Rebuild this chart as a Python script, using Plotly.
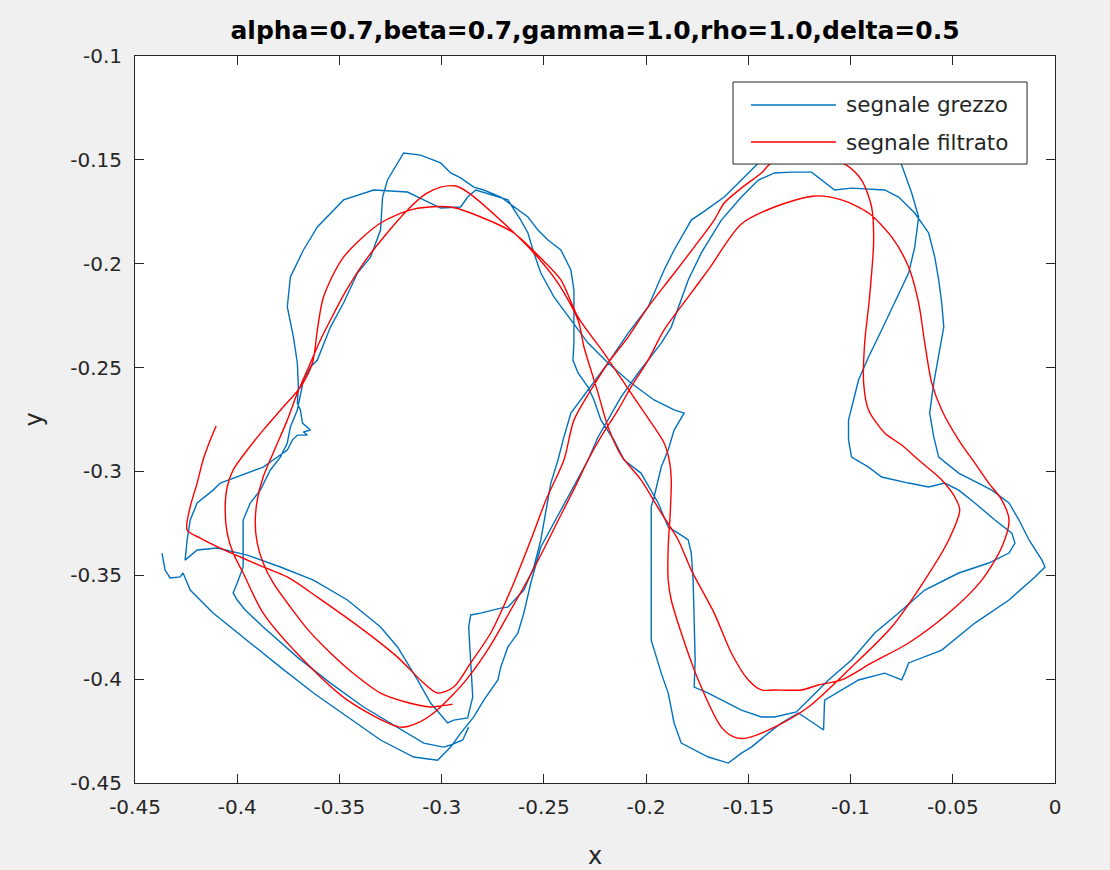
import plotly.graph_objects as go

# ---- data ----
raw_x = [-0.2868, -0.2897, -0.2956, -0.2990, -0.3088, -0.3216, -0.3382, -0.3544, -0.3706, -0.3873,
         -0.3961, -0.4000, -0.4020, -0.4000, -0.3971, -0.3971, -0.3971, -0.3936, -0.3887, -0.3838,
         -0.3789, -0.3755, -0.3740, -0.3706, -0.3691, -0.3676, -0.3642, -0.3608, -0.3544, -0.3480,
         -0.3412, -0.3348, -0.3299, -0.3289, -0.3265, -0.3216, -0.3186, -0.3103, -0.3005, -0.2956,
         -0.2907, -0.2843, -0.2794, -0.2711, -0.2647, -0.2578, -0.2529, -0.2480, -0.2417, -0.2368,
         -0.2353, -0.2353, -0.2353, -0.2358, -0.2333, -0.2284, -0.2255, -0.2221, -0.2157, -0.2108,
         -0.2025, -0.1941, -0.1892, -0.1843, -0.1794, -0.1779, -0.1770, -0.1765, -0.1760, -0.1765,
         -0.1696, -0.1534, -0.1436, -0.1372, -0.1265, -0.1206, -0.1108, -0.0995, -0.0882, -0.0765,
         -0.0637, -0.0471, -0.0324, -0.0225, -0.0196, -0.0211, -0.0294, -0.0392, -0.0471, -0.0539,
         -0.0618, -0.0716, -0.0848, -0.0912, -0.0995, -0.1010, -0.1010, -0.0961, -0.0912, -0.0848,
         -0.0784, -0.0716, -0.0686, -0.0667, -0.0701, -0.0750, -0.0799, -0.0922, -0.1093, -0.1240,
         -0.1363, -0.1451, -0.1534, -0.1618, -0.1706, -0.1779, -0.1863, -0.1912, -0.1990, -0.2088,
         -0.2186, -0.2284, -0.2368, -0.2402, -0.2431, -0.2466, -0.2490, -0.2515, -0.2549, -0.2598,
         -0.2676, -0.2711, -0.2809, -0.2858, -0.2868, -0.2858, -0.2848, -0.2873, -0.2941, -0.2971,
         -0.3054, -0.3118, -0.3216, -0.3299, -0.3461, -0.3627, -0.3789, -0.3951, -0.4098, -0.4196,
         -0.4255, -0.4245, -0.4230, -0.4196, -0.4118, -0.4083, -0.4020, -0.3951, -0.3873, -0.3824,
         -0.3755, -0.3730, -0.3706, -0.3657, -0.3676, -0.3642, -0.3681, -0.3691, -0.3706, -0.3701,
         -0.3706, -0.3725, -0.3755, -0.3740, -0.3676, -0.3608, -0.3480, -0.3333, -0.3167, -0.3088,
         -0.3005, -0.2907, -0.2873, -0.2833, -0.2760, -0.2676, -0.2613, -0.2578, -0.2549, -0.2515,
         -0.2451, -0.2368, -0.2284, -0.2186, -0.2074, -0.1961, -0.1863, -0.1814, -0.1863, -0.1892,
         -0.1926, -0.1961, -0.1975, -0.1975, -0.1975, -0.1926, -0.1892, -0.1863, -0.1828, -0.1696,
         -0.1598, -0.1534, -0.1485, -0.1402, -0.1338, -0.1255, -0.1132, -0.1127, -0.0961, -0.0833,
         -0.0750, -0.0735, -0.0716, -0.0554, -0.0392, -0.0225, -0.0098, -0.0049, -0.0064, -0.0127,
         -0.0176, -0.0225, -0.0309, -0.0471, -0.0569, -0.0593, -0.0613, -0.0593, -0.0569, -0.0544,
         -0.0554, -0.0569, -0.0588, -0.0618, -0.0686, -0.0765, -0.0833, -0.0995, -0.1078, -0.1142,
         -0.1191, -0.1289, -0.1372, -0.1451, -0.1534, -0.1632, -0.1730, -0.1794, -0.1843, -0.1877,
         -0.1926, -0.2039, -0.2123, -0.2186, -0.2235, -0.2284, -0.2382, -0.2466, -0.2515, -0.2564,
         -0.2598, -0.2627, -0.2676, -0.2711, -0.2725, -0.2794, -0.2843, -0.2907, -0.2956, -0.3020,
         -0.3137, -0.3299, -0.3461, -0.3627, -0.3789, -0.3951, -0.4118, -0.4230, -0.4265, -0.4279,
         -0.4328, -0.4353, -0.4368]
raw_y = [-0.4231, -0.4293, -0.4317, -0.4327, -0.4308, -0.4231, -0.4134, -0.4019, -0.3894, -0.3749,
         -0.3667, -0.3619, -0.3585, -0.3537, -0.3460, -0.3330, -0.3234, -0.3152, -0.3090, -0.2993,
         -0.2931, -0.2863, -0.2786, -0.2704, -0.2623, -0.2560, -0.2497, -0.2464, -0.2305, -0.2189,
         -0.2045, -0.1968, -0.1838, -0.1679, -0.1597, -0.1515, -0.1467, -0.1477, -0.1515, -0.1563,
         -0.1587, -0.1631, -0.1645, -0.1679, -0.1727, -0.1775, -0.1838, -0.1886, -0.1934, -0.2030,
         -0.2127, -0.2257, -0.2382, -0.2464, -0.2526, -0.2594, -0.2656, -0.2753, -0.2849, -0.2945,
         -0.3008, -0.3152, -0.3268, -0.3297, -0.3330, -0.3393, -0.3523, -0.3715, -0.3908, -0.4038,
         -0.4067, -0.4149, -0.4182, -0.4182, -0.4158, -0.4101, -0.4004, -0.3908, -0.3778, -0.3682,
         -0.3571, -0.3489, -0.3441, -0.3393, -0.3345, -0.3297, -0.3234, -0.3152, -0.3090, -0.3056,
         -0.3075, -0.3056, -0.3027, -0.2979, -0.2931, -0.2849, -0.2753, -0.2560, -0.2449, -0.2319,
         -0.2189, -0.2045, -0.1920, -0.1775, -0.1660, -0.1525, -0.1429, -0.1380, -0.1380, -0.1414,
         -0.1462, -0.1515, -0.1597, -0.1679, -0.1741, -0.1790, -0.1934, -0.2030, -0.2208, -0.2334,
         -0.2478, -0.2608, -0.2719, -0.2834, -0.2945, -0.3056, -0.3186, -0.3330, -0.3460, -0.3571,
         -0.3653, -0.3658, -0.3682, -0.3691, -0.3749, -0.3922, -0.4086, -0.4187, -0.4197, -0.4211,
         -0.4115, -0.4004, -0.3845, -0.3749, -0.3619, -0.3523, -0.3460, -0.3403, -0.3369, -0.3378,
         -0.3427, -0.3330, -0.3234, -0.3152, -0.3090, -0.3056, -0.3032, -0.3008, -0.2979, -0.2945,
         -0.2897, -0.2849, -0.2825, -0.2825, -0.2810, -0.2801, -0.2767, -0.2704, -0.2671, -0.2594,
         -0.2478, -0.2353, -0.2208, -0.2064, -0.1934, -0.1823, -0.1693, -0.1645, -0.1655, -0.1693,
         -0.1732, -0.1727, -0.1679, -0.1645, -0.1669, -0.1693, -0.1790, -0.1852, -0.1948, -0.2045,
         -0.2160, -0.2271, -0.2382, -0.2478, -0.2574, -0.2656, -0.2704, -0.2719, -0.2801, -0.2897,
         -0.2979, -0.3123, -0.3171, -0.3523, -0.3812, -0.3971, -0.4067, -0.4211, -0.4308, -0.4375,
         -0.4404, -0.4356, -0.4327, -0.4260, -0.4211, -0.4163, -0.4245, -0.4101, -0.4004, -0.3971,
         -0.4004, -0.3971, -0.3922, -0.3860, -0.3730, -0.3619, -0.3508, -0.3460, -0.3427, -0.3330,
         -0.3234, -0.3152, -0.3090, -0.3008, -0.2931, -0.2834, -0.2719, -0.2574, -0.2449, -0.2305,
         -0.2189, -0.2078, -0.1968, -0.1852, -0.1756, -0.1679, -0.1645, -0.1636, -0.1645, -0.1597,
         -0.1559, -0.1559, -0.1563, -0.1597, -0.1679, -0.1790, -0.1948, -0.2078, -0.2208, -0.2305,
         -0.2382, -0.2526, -0.2642, -0.2753, -0.2834, -0.2945, -0.3123, -0.3268, -0.3364, -0.3537,
         -0.3682, -0.3778, -0.3845, -0.3942, -0.4004, -0.4101, -0.4182, -0.4260, -0.4327, -0.4390,
         -0.4375, -0.4293, -0.4182, -0.4067, -0.3942, -0.3812, -0.3682, -0.3571, -0.3489, -0.3508,
         -0.3513, -0.3475, -0.3393]

filt_x = [-0.2946, -0.3005, -0.3054, -0.3176, -0.3299, -0.3422, -0.3544, -0.3652, -0.3740, -0.3824,
          -0.3873, -0.3902, -0.3912, -0.3902, -0.3873, -0.3824, -0.3755, -0.3706, -0.3642, -0.3593,
          -0.3544, -0.3471, -0.3382, -0.3275, -0.3167, -0.3078, -0.3005, -0.2931, -0.2873, -0.2676,
          -0.2549, -0.2431, -0.2333, -0.2304, -0.2270, -0.2235, -0.2186, -0.2123, -0.2025, -0.1926,
          -0.1843, -0.1779, -0.1667, -0.1583, -0.1500, -0.1436, -0.1372, -0.1240, -0.1157, -0.1044,
          -0.0897, -0.0716, -0.0520, -0.0358, -0.0260, -0.0225, -0.0260, -0.0324, -0.0392, -0.0471,
          -0.0554, -0.0603, -0.0637, -0.0667, -0.0716, -0.0799, -0.0912, -0.1044, -0.1176, -0.1372,
          -0.1534, -0.1696, -0.1794, -0.1912, -0.1990, -0.2074, -0.2137, -0.2221, -0.2284, -0.2343,
          -0.2417, -0.2490, -0.2574, -0.2662, -0.2760, -0.2873, -0.2956, -0.3039, -0.3118, -0.3201,
          -0.3461, -0.3676, -0.3873, -0.3971, -0.4020, -0.4049, -0.4059, -0.4049, -0.4020, -0.3951,
          -0.3873, -0.3775, -0.3691, -0.3632, -0.3608, -0.3578, -0.3480, -0.3299, -0.3137, -0.2956,
          -0.2809, -0.2647, -0.2515, -0.2417, -0.2333, -0.2206, -0.2074, -0.1961, -0.1912, -0.1887,
          -0.1877, -0.1882, -0.1892, -0.1892, -0.1877, -0.1828, -0.1745, -0.1632, -0.1569, -0.1510,
          -0.1372, -0.1206, -0.0995, -0.0799, -0.0637, -0.0520, -0.0466, -0.0490, -0.0554, -0.0667,
          -0.0750, -0.0833, -0.0912, -0.0936, -0.0931, -0.0907, -0.0887, -0.0897, -0.0946, -0.1020,
          -0.1142, -0.1289, -0.1387, -0.1436, -0.1534, -0.1618, -0.1667, -0.1765, -0.1877, -0.1990,
          -0.2088, -0.2186, -0.2270, -0.2353, -0.2402, -0.2490, -0.2564, -0.2662, -0.2760, -0.2858,
          -0.2941, -0.3020, -0.3088, -0.3216, -0.3382, -0.3608, -0.3755, -0.3873, -0.3985, -0.4083,
          -0.4181, -0.4245, -0.4230, -0.4196, -0.4167, -0.4132, -0.4103]
filt_y = [-0.4120, -0.4129, -0.4134, -0.4110, -0.4067, -0.3980, -0.3874, -0.3764, -0.3653, -0.3537,
          -0.3441, -0.3345, -0.3248, -0.3138, -0.3027, -0.2911, -0.2753, -0.2623, -0.2478, -0.2367,
          -0.2271, -0.2136, -0.1997, -0.1862, -0.1741, -0.1664, -0.1631, -0.1626, -0.1655, -0.1823,
          -0.1948, -0.2093, -0.2271, -0.2401, -0.2512, -0.2623, -0.2786, -0.2921, -0.3041, -0.3200,
          -0.3330, -0.3475, -0.3682, -0.3874, -0.4004, -0.4052, -0.4052, -0.4052, -0.4028, -0.4004,
          -0.3922, -0.3826, -0.3682, -0.3523, -0.3364, -0.3234, -0.3138, -0.3056, -0.2960, -0.2849,
          -0.2704, -0.2574, -0.2382, -0.2189, -0.2016, -0.1871, -0.1756, -0.1693, -0.1674, -0.1727,
          -0.1809, -0.2030, -0.2160, -0.2319, -0.2464, -0.2594, -0.2704, -0.2834, -0.2945, -0.3066,
          -0.3210, -0.3354, -0.3513, -0.3667, -0.3836, -0.3995, -0.4086, -0.4163, -0.4211, -0.4231,
          -0.4101, -0.3908, -0.3682, -0.3489, -0.3393, -0.3297, -0.3186, -0.3075, -0.2993, -0.2897,
          -0.2801, -0.2690, -0.2594, -0.2478, -0.2319, -0.2160, -0.1968, -0.1804, -0.1737, -0.1727,
          -0.1775, -0.1852, -0.1973, -0.2078, -0.2257, -0.2430, -0.2623, -0.2786, -0.2863, -0.2945,
          -0.3041, -0.3200, -0.3364, -0.3523, -0.3619, -0.3778, -0.4004, -0.4231, -0.4279, -0.4284,
          -0.4231, -0.4134, -0.3942, -0.3749, -0.3523, -0.3330, -0.3186, -0.3123, -0.3041, -0.2945,
          -0.2873, -0.2815, -0.2704, -0.2574, -0.2382, -0.2160, -0.1886, -0.1727, -0.1597, -0.1525,
          -0.1491, -0.1491, -0.1515, -0.1563, -0.1636, -0.1708, -0.1790, -0.1920, -0.2064, -0.2208,
          -0.2353, -0.2478, -0.2608, -0.2753, -0.2945, -0.3138, -0.3330, -0.3571, -0.3778, -0.3922,
          -0.4038, -0.4067, -0.4019, -0.3894, -0.3764, -0.3605, -0.3508, -0.3460, -0.3412, -0.3369,
          -0.3321, -0.3282, -0.3171, -0.3056, -0.2945, -0.2849, -0.2781]

x_ticks = [-0.45, -0.4, -0.35, -0.3, -0.25, -0.2, -0.15, -0.1, -0.05, 0]
x_labels = ["-0.45", "-0.4", "-0.35", "-0.3", "-0.25", "-0.2", "-0.15", "-0.1", "-0.05", "0"]
y_ticks = [-0.45, -0.4, -0.35, -0.3, -0.25, -0.2, -0.15, -0.1]
y_labels = ["-0.45", "-0.4", "-0.35", "-0.3", "-0.25", "-0.2", "-0.15", "-0.1"]

series_names = ["segnale grezzo", "segnale filtrato"]
series_colors = ["#0072BD", "#FF0000"]
title_text = "alpha=0.7,beta=0.7,gamma=1.0,rho=1.0,delta=0.5"

FONT = "DejaVu Sans"
AX = "#262626"

fig = go.Figure()
fig.add_trace(go.Scatter(x=raw_x, y=raw_y, mode="lines", name=series_names[0],
                         line=dict(color=series_colors[0], width=1.4), showlegend=False))
fig.add_trace(go.Scatter(x=filt_x, y=filt_y, mode="lines", name=series_names[1],
                         line=dict(color=series_colors[1], width=1.4, shape="spline", smoothing=0.8),
                         showlegend=False))

axis_common = dict(showgrid=False, zeroline=False, showline=True, linecolor=AX, linewidth=1,
                   mirror="ticks", ticks="inside", ticklen=9, tickwidth=1, tickcolor=AX,
                   tickfont=dict(family=FONT, size=20, color=AX), automargin=False)
fig.update_xaxes(range=[-0.45, 0], tickvals=x_ticks, ticktext=x_labels,
                 title=dict(text="x", font=dict(family=FONT, size=24, color=AX), standoff=30),
                 ticklabelstandoff=6, **axis_common)
fig.update_yaxes(range=[-0.45, -0.1], tickvals=y_ticks, ticktext=y_labels,
                 title=dict(text="y", font=dict(family=FONT, size=24, color=AX), standoff=20),
                 ticklabelstandoff=8, **axis_common)

# legend box (drawn in paper coordinates, opaque like the original)
shapes = [dict(type="rect", xref="paper", yref="paper", x0=0.650, x1=0.9696, y0=0.8514, y1=0.9642,
               fillcolor="white", line=dict(color=AX, width=1), layer="above")]
ann = []
rows_y = [0.9326, 0.8817]
for name, col, yy in zip(series_names, series_colors, rows_y):
    shapes.append(dict(type="line", xref="paper", yref="paper", x0=0.6696, x1=0.7620, y0=yy, y1=yy,
                       line=dict(color=col, width=1.4), layer="above"))
    ann.append(dict(xref="paper", yref="paper", x=0.7707, y=yy, xanchor="left", yanchor="middle",
                    text=name, showarrow=False, font=dict(family=FONT, size=21.5, color=AX)))

fig.update_layout(
    width=1110, height=870,
    margin=dict(l=135, r=55, t=56, b=87),
    paper_bgcolor="#f0f0f0", plot_bgcolor="white",
    title=dict(text="<b>" + title_text + "</b>", x=0.5, xref="paper", xanchor="center",
               y=1 - 30 / 870, yref="container", yanchor="middle",
               font=dict(family=FONT, size=25, color="#000000")),
    shapes=shapes, annotations=ann,
)

fig.write_html("out.html")
